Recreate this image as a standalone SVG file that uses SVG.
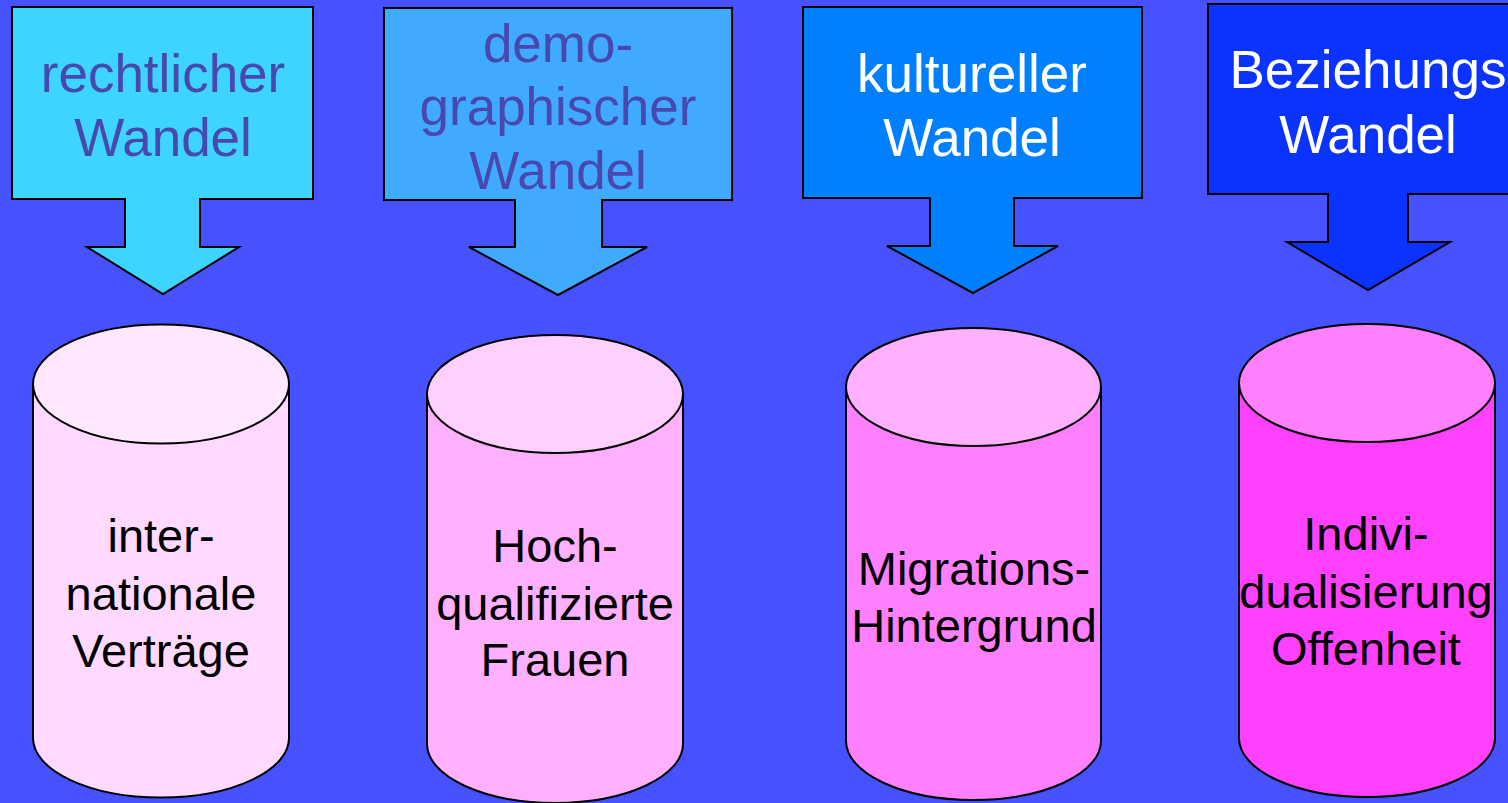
<svg xmlns="http://www.w3.org/2000/svg" width="1508" height="803" viewBox="0 0 1508 803">
  <style>
    .shape { stroke: #000; stroke-width: 2; stroke-linejoin: miter; }
    .atext { font-family: "Liberation Sans", Arial, sans-serif; font-size: 53px; text-anchor: middle; }
    .dark { fill: #4848B0; }
    .light { fill: #FFFFFF; }
    .ctext { font-family: "Liberation Sans", Arial, sans-serif; font-size: 47px; text-anchor: middle; fill: #000; }
  </style>
  <rect x="0" y="0" width="1508" height="803" fill="#4652FF"/>

  <g id="arrow-rechtlich">
    <path class="shape" fill="#3DD5FF" d="M12,7 L313,7 L313,199 L200,199 L200,247 L239,247 L163,294 L87,247 L125,247 L125,199 L12,199 Z"/>
    <text class="atext dark" x="163" y="92">rechtlicher</text>
    <text class="atext dark" x="163" y="156">Wandel</text>
  </g>

  <g id="arrow-demographisch">
    <path class="shape" fill="#40AAFF" d="M384,8 L732,8 L732,200 L602,200 L602,247 L647,247 L558,295 L469,247 L515,247 L515,200 L384,200 Z"/>
    <text class="atext dark" x="558" y="62">demo-</text>
    <text class="atext dark" x="558" y="125">graphischer</text>
    <text class="atext dark" x="558" y="189">Wandel</text>
  </g>

  <g id="arrow-kulturell">
    <path class="shape" fill="#0080FF" d="M803,7 L1142,7 L1142,198 L1014,198 L1014,246 L1058,246 L973,293 L887,246 L930,246 L930,198 L803,198 Z"/>
    <text class="atext light" x="972" y="92">kultureller</text>
    <text class="atext light" x="972" y="156">Wandel</text>
  </g>

  <g id="arrow-beziehung">
    <path class="shape" fill="#0A33FF" d="M1208,4 L1512,4 L1512,194 L1408,194 L1408,242 L1450,242 L1368,290 L1287,242 L1328,242 L1328,194 L1208,194 Z"/>
    <text class="atext light" x="1368" y="88">Beziehungs</text>
    <text class="atext light" x="1368" y="153">Wandel</text>
  </g>

  <g id="cyl-vertraege">
    <path class="shape" fill="#FFD9FF" d="M33,384 L33,738 A128,59.5 0 0 0 289,738 L289,384 Z"/>
    <ellipse class="shape" fill="#FFE8FF" cx="161" cy="384" rx="128" ry="59.5"/>
    <text class="ctext" x="161" y="552">inter-</text>
    <text class="ctext" x="161" y="610">nationale</text>
    <text class="ctext" x="161" y="667">Verträge</text>
  </g>

  <g id="cyl-frauen">
    <path class="shape" fill="#FFB0FF" d="M427,394 L427,744 A128,59 0 0 0 683,744 L683,394 Z"/>
    <ellipse class="shape" fill="#FFD0FF" cx="555" cy="394" rx="128" ry="59"/>
    <text class="ctext" x="555" y="562">Hoch-</text>
    <text class="ctext" x="555" y="620">qualifizierte</text>
    <text class="ctext" x="555" y="676">Frauen</text>
  </g>

  <g id="cyl-migration">
    <path class="shape" fill="#FF80FF" d="M846,387 L846,741 A127.5,59 0 0 0 1101,741 L1101,387 Z"/>
    <ellipse class="shape" fill="#FFB0FF" cx="973.5" cy="387" rx="127.5" ry="59"/>
    <text class="ctext" x="974" y="585">Migrations-</text>
    <text class="ctext" x="974" y="642">Hintergrund</text>
  </g>

  <g id="cyl-individualisierung">
    <path class="shape" fill="#FF40FF" d="M1239,383 L1239,738 A128,59 0 0 0 1495,738 L1495,383 Z"/>
    <ellipse class="shape" fill="#FF80FF" cx="1367" cy="383" rx="128" ry="59"/>
    <text class="ctext" x="1366" y="550">Indivi-</text>
    <text class="ctext" x="1366" y="608">dualisierung</text>
    <text class="ctext" x="1366" y="665">Offenheit</text>
  </g>

  <g id="connectors"></g>
</svg>
